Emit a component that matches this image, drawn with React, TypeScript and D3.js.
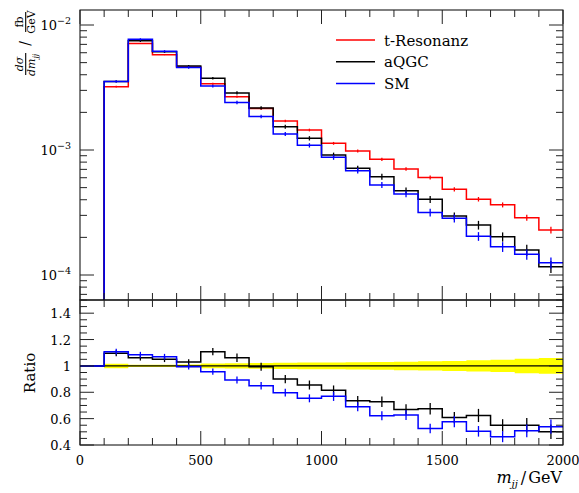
import React from 'react';
import * as d3 from 'd3';

// ---- data ----
const binEdges = [100, 200, 300, 400, 500, 600, 700, 800, 900, 1000, 1100, 1200, 1300, 1400, 1500, 1600, 1700, 1800, 1900, 2000];
const ratioEdges = [0, 100, 200, 300, 400, 500, 600, 700, 800, 900, 1000, 1100, 1200, 1300, 1400, 1500, 1600, 1700, 1800, 1900, 2000];

const tResonanz = [3.21e-3, 7.11e-3, 5.79e-3, 4.61e-3, 3.39e-3, 2.67e-3, 2.15e-3, 1.706e-3, 1.445e-3, 1.131e-3, 9.82e-4, 8.43e-4, 7.05e-4, 6.03e-4, 4.85e-4, 4.04e-4, 3.64e-4, 2.87e-4, 2.29e-4];
const aQGC = [3.53e-3, 7.47e-3, 6.1e-3, 4.7e-3, 3.75e-3, 2.86e-3, 2.17e-3, 1.536e-3, 1.241e-3, 9.12e-4, 7.14e-4, 6.11e-4, 4.72e-4, 4.03e-4, 2.96e-4, 2.51e-4, 2.02e-4, 1.585e-4, 1.165e-4];
const SM = [3.54e-3, 7.68e-3, 6.16e-3, 4.57e-3, 3.25e-3, 2.4e-3, 1.854e-3, 1.343e-3, 1.09e-3, 8.74e-4, 6.83e-4, 5.25e-4, 4.45e-4, 3.16e-4, 2.84e-4, 2.04e-4, 1.68e-4, 1.464e-4, 1.254e-4];

const tResonanzErr = [0.017, 0.009, 0.009, 0.01, 0.018, 0.02, 0.022, 0.024, 0.025, 0.026, 0.028, 0.03, 0.032, 0.035, 0.038, 0.042, 0.046, 0.055, 0.06];
const aQGCErr = [0.02, 0.02, 0.02, 0.02, 0.025, 0.03, 0.03, 0.035, 0.04, 0.045, 0.05, 0.055, 0.06, 0.065, 0.07, 0.08, 0.085, 0.1, 0.11];
const SMErr = [0.02, 0.02, 0.02, 0.022, 0.025, 0.03, 0.033, 0.037, 0.04, 0.045, 0.05, 0.055, 0.06, 0.07, 0.075, 0.08, 0.09, 0.095, 0.1];

const ratioAQGC = [1, 1.096, 1.062, 1.05, 1.03, 1.108, 1.062, 0.994, 0.9, 0.855, 0.815, 0.735, 0.728, 0.669, 0.675, 0.608, 0.624, 0.549, 0.549, 0.5];
const ratioSM = [1, 1.108, 1.085, 1.07, 0.994, 0.956, 0.893, 0.85, 0.797, 0.754, 0.769, 0.69, 0.622, 0.627, 0.525, 0.577, 0.504, 0.463, 0.508, 0.539];

const xTickLabels = [0, 500, 1000, 1500, 2000];
const yTickDecades = [-4, -3, -2];
const ratioTickLabels = [0.4, 0.6, 0.8, 1, 1.2, 1.4];
const legendLabels = ['t-Resonanz', 'aQGC', 'SM'];
const colors = ['#ff0000', '#000000', '#0000ff'];

// ---- layout ----
const W = 579, H = 493;
const L = 80, R = 563;
const UT = 10, UB = 300, RT = 300, RB = 445;
const FONT = '"DejaVu Serif", serif';

const x = d3.scaleLinear().domain([0, 2000]).range([L, R]);
const y = d3.scaleLog().domain([Math.pow(10, -4.2), Math.pow(10, -1.88)]).range([UB, UT]);
const r = d3.scaleLinear().domain([0.4, 1.5]).range([RB, RT]);

function upperPath(vals: number[]) {
  const pts: [number, number][] = [[x(binEdges[0]), UB + 2]];
  vals.forEach((v, i) => {
    pts.push([x(binEdges[i]), y(v)]);
    pts.push([x(binEdges[i + 1]), y(v)]);
  });
  return d3.line()(pts) as string;
}
function ratioPath(vals: number[]) {
  const pts: [number, number][] = [];
  vals.forEach((v, i) => {
    pts.push([x(ratioEdges[i]), r(v)]);
    pts.push([x(ratioEdges[i + 1]), r(v)]);
  });
  return d3.line()(pts) as string;
}
function bandPath(errs: number[]) {
  const pts: { x: number; e: number }[] = [];
  errs.forEach((e, i) => {
    pts.push({ x: binEdges[i], e });
    pts.push({ x: binEdges[i + 1], e });
  });
  return d3.area<{ x: number; e: number }>()
    .x(d => x(d.x))
    .y0(d => r(1 - d.e))
    .y1(d => r(1 + d.e))(pts) as string;
}

export default function App() {
  const series = [tResonanz, aQGC, SM];
  const errs = [tResonanzErr, aQGCErr, SMErr];
  const ratioSeries = [ratioAQGC, ratioSM];
  const ratioErrs = [aQGCErr, SMErr];

  const xTicks = d3.range(0, 2001, 100);
  const yTicks: { v: number; major: boolean }[] = [];
  for (let d = -5; d <= -1; d++) {
    for (let k = 1; k <= 9; k++) {
      const v = k * Math.pow(10, d);
      const py = y(v);
      if (py >= UT && py <= UB) yTicks.push({ v, major: k === 1 });
    }
  }
  const rTicks = d3.range(0, 23).map(i => 0.4 + i * 0.05).filter(v => v <= 1.5001);
  const tickStroke = '#222';

  const centers = binEdges.slice(0, -1).map((e, i) => (e + binEdges[i + 1]) / 2);
  const rCenters = ratioEdges.slice(0, -1).map((e, i) => (e + ratioEdges[i + 1]) / 2);

  return (
    <svg width={W} height={H} style={{ position: 'absolute', left: 0, top: 0, background: '#fff' }} fontFamily={FONT}>
      <defs>
        <clipPath id="clipU"><rect x={L} y={UT} width={R - L} height={UB - UT} /></clipPath>
        <clipPath id="clipR"><rect x={L} y={RT} width={R - L} height={RB - RT} /></clipPath>
      </defs>
      <rect width={W} height={H} fill="#fff" />

      {/* upper panel histograms */}
      <g clipPath="url(#clipU)">
        {series.map((s, si) => (
          <g key={si}>
            <path d={upperPath(s)} fill="none" stroke={colors[si]} strokeWidth={1.5} />
            {s.map((v, i) => (
              <line key={i} x1={x(centers[i])} x2={x(centers[i])} y1={y(v * (1 - errs[si][i]))} y2={y(v * (1 + errs[si][i]))} stroke={colors[si]} strokeWidth={1.3} />
            ))}
          </g>
        ))}
      </g>

      {/* ratio panel */}
      <g clipPath="url(#clipR)">
        <path d={bandPath(tResonanzErr)} fill="#ffff00" stroke="none" />
        <line x1={x(0)} x2={x(2000)} y1={r(1)} y2={r(1)} stroke="#000" strokeWidth={1.3} />
        {ratioSeries.map((s, si) => (
          <g key={si}>
            <path d={ratioPath(s)} fill="none" stroke={colors[si + 1]} strokeWidth={1.5} />
            {s.map((v, i) => i === 0 ? null : (
              <line key={i} x1={x(rCenters[i])} x2={x(rCenters[i])} y1={r(v * (1 - ratioErrs[si][i - 1]))} y2={r(v * (1 + ratioErrs[si][i - 1]))} stroke={colors[si + 1]} strokeWidth={1.3} />
            ))}
          </g>
        ))}
      </g>

      {/* frames */}
      <rect x={L} y={UT} width={R - L} height={UB - UT} fill="none" stroke="#000" strokeWidth={1} />
      <rect x={L} y={RT} width={R - L} height={RB - RT} fill="none" stroke="#000" strokeWidth={1} />

      {/* x ticks */}
      {xTicks.map(t => {
        const len = t % 500 === 0 ? 14 : 7;
        const px = x(t);
        return (
          <g key={t} stroke={tickStroke} strokeWidth={1}>
            <line x1={px} x2={px} y1={UT} y2={UT + len} />
            <line x1={px} x2={px} y1={UB} y2={UB - len} />
            <line x1={px} x2={px} y1={RT} y2={RT + len} />
            <line x1={px} x2={px} y1={RB} y2={RB - len} />
          </g>
        );
      })}
      {/* upper y ticks */}
      {yTicks.map((t, i) => {
        const len = t.major ? 14 : 7;
        const py = y(t.v);
        return (
          <g key={i} stroke={tickStroke} strokeWidth={1}>
            <line x1={L} x2={L + len} y1={py} y2={py} />
            <line x1={R} x2={R - len} y1={py} y2={py} />
          </g>
        );
      })}
      {/* ratio y ticks */}
      {rTicks.map((t, i) => {
        const major = Math.abs(Math.round(t * 5) - t * 5) < 1e-6;
        const len = major ? 14 : 7;
        const py = r(t);
        return (
          <g key={i} stroke={tickStroke} strokeWidth={1}>
            <line x1={L} x2={L + len} y1={py} y2={py} />
            <line x1={R} x2={R - len} y1={py} y2={py} />
          </g>
        );
      })}

      {/* tick labels */}
      {xTickLabels.map(t => (
        <text key={t} x={x(t)} y={465} textAnchor="middle" fontSize={13}>{t}</text>
      ))}
      {yTickDecades.map(d => (
        <text key={d} x={71} y={y(Math.pow(10, d)) + 5} textAnchor="end" fontSize={13}>
          10<tspan dy={-6} fontSize={9.5}>{'\u2212' + Math.abs(d)}</tspan>
        </text>
      ))}
      {ratioTickLabels.map(t => (
        <text key={t} x={71} y={r(t) + 5} textAnchor="end" fontSize={13}>{String(t)}</text>
      ))}

      {/* axis labels */}
      <text x={562} y={483} textAnchor="end" fontSize={16}>
        <tspan fontStyle="italic">m</tspan>
        <tspan fontStyle="italic" fontSize={10} dy={4}>jj</tspan>
        <tspan dy={-4} dx={3}>/</tspan>
        <tspan dx={2}>GeV</tspan>
      </text>
      <text transform="translate(35,373) rotate(-90)" textAnchor="middle" fontSize={15}>Ratio</text>

      <g transform="translate(25.7,45) rotate(-90)">
        <text x={-19} y={-2.5} textAnchor="middle" fontSize={11} fontStyle="italic">d{'\u03c3'}</text>
        <line x1={-30} x2={-8} y1={0} y2={0} stroke="#000" strokeWidth={1.1} />
        <text x={-20} y={9.5} textAnchor="middle" fontSize={11} fontStyle="italic">
          dm<tspan fontSize={7.5} dy={2.5}>jj</tspan>
        </text>
        <text x={1.5} y={4.5} textAnchor="middle" fontSize={14}>/</text>
        <text x={23} y={-2.5} textAnchor="middle" fontSize={11}>fb</text>
        <line x1={13} x2={33} y1={0} y2={0} stroke="#000" strokeWidth={1.1} />
        <text x={23} y={9.5} textAnchor="middle" fontSize={11}>GeV</text>
      </g>

      {/* legend */}
      {legendLabels.map((lab, i) => {
        const ly = 40 + i * 21.7;
        return (
          <g key={lab}>
            <line x1={336} x2={375} y1={ly} y2={ly} stroke={colors[i]} strokeWidth={1.5} />
            <text x={384} y={ly + 5.5} fontSize={15}>{lab}</text>
          </g>
        );
      })}
    </svg>
  );
}
